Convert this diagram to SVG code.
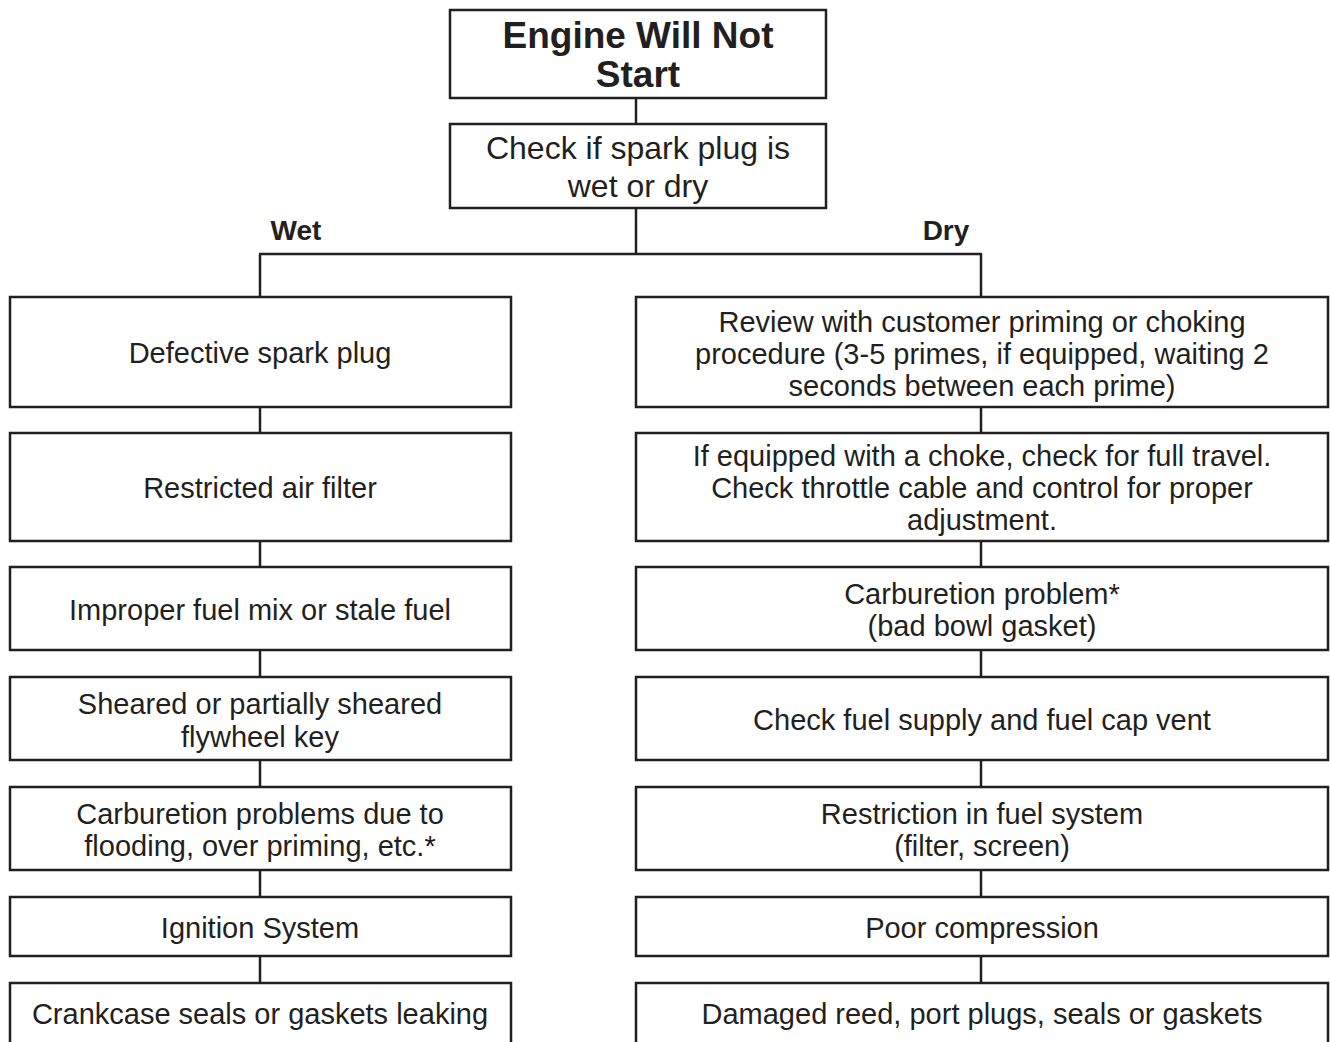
<svg xmlns="http://www.w3.org/2000/svg" width="1330" height="1042" viewBox="0 0 1330 1042">
<style>
rect{fill:#fff;stroke:#231f20;stroke-width:2.5}
.c line{stroke:#231f20;stroke-width:2.5}
text{font-family:"Liberation Sans",Arial,sans-serif;fill:#231f20;text-anchor:middle;font-size:29px}
.b{font-weight:bold}
.t{font-size:37px}
.l{font-size:28px}
.k{font-size:32px}
</style>
<rect x="0" y="0" width="1330" height="1042" style="stroke:none"/>
<g class="c" id="connectors">
<line x1="636" y1="98" x2="636" y2="124"/>
<line x1="636" y1="208" x2="636" y2="254"/>
<line x1="259" y1="254" x2="982" y2="254"/>
<line x1="260" y1="254" x2="260" y2="297"/>
<line x1="981" y1="254" x2="981" y2="297"/>
<line x1="260" y1="407" x2="260" y2="433"/>
<line x1="260" y1="541" x2="260" y2="567"/>
<line x1="260" y1="650" x2="260" y2="677"/>
<line x1="260" y1="760" x2="260" y2="787"/>
<line x1="260" y1="870" x2="260" y2="897"/>
<line x1="260" y1="956" x2="260" y2="983"/>
<line x1="981" y1="407" x2="981" y2="433"/>
<line x1="981" y1="541" x2="981" y2="567"/>
<line x1="981" y1="650" x2="981" y2="677"/>
<line x1="981" y1="760" x2="981" y2="787"/>
<line x1="981" y1="870" x2="981" y2="897"/>
<line x1="981" y1="956" x2="981" y2="983"/>
</g>
<g id="title"><rect x="450" y="10" width="376" height="88"/><text class="b t" x="638" y="48">Engine Will Not</text><text class="b t" x="638" y="87">Start</text></g>
<g id="check"><rect x="450" y="124" width="376" height="84"/><text class="k" x="638" y="159">Check if spark plug is</text><text class="k" x="638" y="197">wet or dry</text></g>
<g id="wet"><text class="b l" x="296" y="240">Wet</text></g>
<g id="dry"><text class="b l" x="946" y="240">Dry</text></g>
<g id="l1"><rect x="10" y="297" width="501" height="110"/><text x="260" y="363">Defective spark plug</text></g>
<g id="l2"><rect x="10" y="433" width="501" height="108"/><text x="260" y="498">Restricted air filter</text></g>
<g id="l3"><rect x="10" y="567" width="501" height="83"/><text x="260" y="620">Improper fuel mix or stale fuel</text></g>
<g id="l4"><rect x="10" y="677" width="501" height="83"/><text x="260" y="714">Sheared or partially sheared</text><text x="260" y="747">flywheel key</text></g>
<g id="l5"><rect x="10" y="787" width="501" height="83"/><text x="260" y="824">Carburetion problems due to</text><text x="260" y="856">flooding, over priming, etc.*</text></g>
<g id="l6"><rect x="10" y="897" width="501" height="59"/><text x="260" y="938">Ignition System</text></g>
<g id="l7"><rect x="10" y="983" width="501" height="62"/><text x="260" y="1024">Crankcase seals or gaskets leaking</text></g>
<g id="r1"><rect x="636" y="297" width="692" height="110"/><text x="982" y="332">Review with customer priming or choking</text><text x="982" y="364">procedure (3-5 primes, if equipped, waiting 2</text><text x="982" y="396">seconds between each prime)</text></g>
<g id="r2"><rect x="636" y="433" width="692" height="108"/><text x="982" y="466">If equipped with a choke, check for full travel.</text><text x="982" y="498">Check throttle cable and control for proper</text><text x="982" y="530">adjustment.</text></g>
<g id="r3"><rect x="636" y="567" width="692" height="83"/><text x="982" y="604">Carburetion problem*</text><text x="982" y="636">(bad bowl gasket)</text></g>
<g id="r4"><rect x="636" y="677" width="692" height="83"/><text x="982" y="730">Check fuel supply and fuel cap vent</text></g>
<g id="r5"><rect x="636" y="787" width="692" height="83"/><text x="982" y="824">Restriction in fuel system</text><text x="982" y="856">(filter, screen)</text></g>
<g id="r6"><rect x="636" y="897" width="692" height="59"/><text x="982" y="938">Poor compression</text></g>
<g id="r7"><rect x="636" y="983" width="692" height="62"/><text x="982" y="1024">Damaged reed, port plugs, seals or gaskets</text></g>
</svg>
